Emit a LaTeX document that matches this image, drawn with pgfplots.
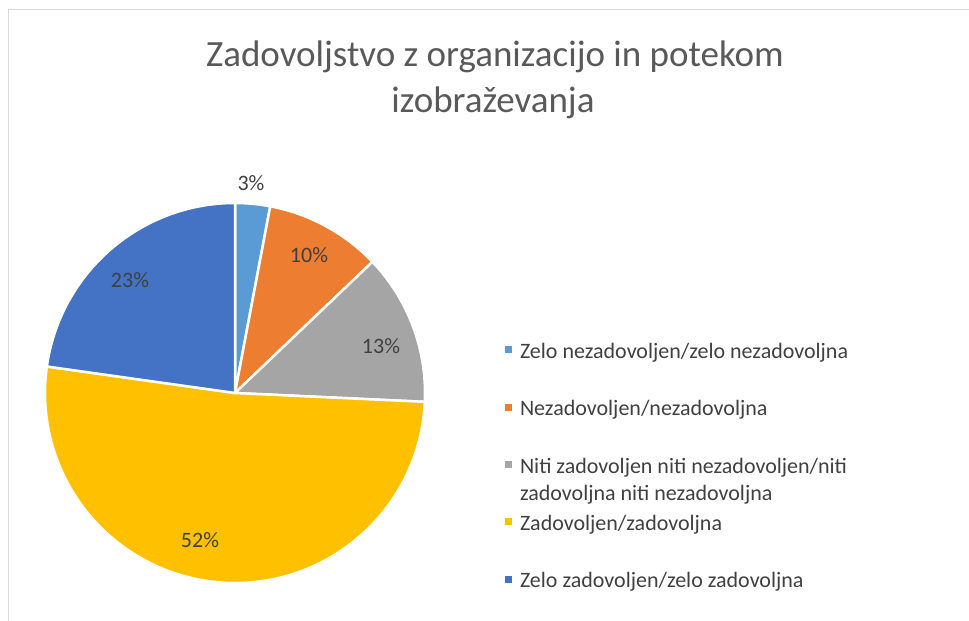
\documentclass[border=0pt]{standalone}
\usepackage{pgfplots}
\usepackage{pgfplotstable}
\pgfplotsset{compat=1.18}
\usepackage{fontspec}
\setmainfont{Carlito}
\definecolor{sliceA}{HTML}{5B9BD5}
\definecolor{sliceB}{HTML}{ED7D31}
\definecolor{sliceC}{HTML}{A5A5A5}
\definecolor{sliceD}{HTML}{FFC000}
\definecolor{sliceE}{HTML}{4472C4}
\definecolor{txt}{HTML}{404040}
\definecolor{ttl}{HTML}{595959}
\definecolor{frame}{HTML}{D9D9D9}

\pgfplotstableread{
value
3
10
13
52
23
}\piedata

\begin{document}%
\begin{tikzpicture}
\pgfplotstablegetelem{0}{value}\of\piedata \global\let\va\pgfplotsretval
\pgfplotstablegetelem{1}{value}\of\piedata \global\let\vb\pgfplotsretval
\pgfplotstablegetelem{2}{value}\of\piedata \global\let\vc\pgfplotsretval
\pgfplotstablegetelem{3}{value}\of\piedata \global\let\vd\pgfplotsretval
\pgfplotstablegetelem{4}{value}\of\piedata \global\let\ve\pgfplotsretval
\pgfmathsetmacro{\tot}{\va+\vb+\vc+\vd+\ve}
\pgfmathsetmacro{\k}{360/\tot}
\pgfmathsetmacro{\aA}{90-\k*(\va)}
\pgfmathsetmacro{\aB}{90-\k*(\va+\vb)}
\pgfmathsetmacro{\aC}{90-\k*(\va+\vb+\vc)}
\pgfmathsetmacro{\aD}{90-\k*(\va+\vb+\vc+\vd)}
\pgfmathsetmacro{\aE}{-270}
\begin{axis}[
  at={(0,0)}, anchor=south west,
  scale only axis, width=969pt, height=621pt,
  xmin=0, xmax=969, ymin=0, ymax=621,
  hide axis, clip=false,
  legend cell align=left,
  legend image code/.code={\fill[#1] (0pt,-3.5pt) rectangle (7pt,3.5pt);},
  legend style={draw=none, fill=none, at={(axis cs:505,281.5)}, anchor=north west,
    inner sep=0pt, outer sep=0pt, row sep=37pt, column sep=0pt,
    font=\fontsize{22}{27}\selectfont\color{txt},
    nodes={inner sep=0pt, outer sep=0pt}},
]
% frame
\draw[frame, line width=1pt] (axis cs:969,611) -- (axis cs:8,611) -- (axis cs:8,0);
% pie slices
\filldraw[fill=sliceA, draw=white, line width=2.5pt, line join=round] (axis cs:235,228) -- ++(90:190pt) arc[start angle=90, end angle=\aA, radius=190pt] -- cycle;
\filldraw[fill=sliceB, draw=white, line width=2.5pt, line join=round] (axis cs:235,228) -- ++(\aA:190pt) arc[start angle=\aA, end angle=\aB, radius=190pt] -- cycle;
\filldraw[fill=sliceC, draw=white, line width=2.5pt, line join=round] (axis cs:235,228) -- ++(\aB:190pt) arc[start angle=\aB, end angle=\aC, radius=190pt] -- cycle;
\filldraw[fill=sliceD, draw=white, line width=2.5pt, line join=round] (axis cs:235,228) -- ++(\aC:190pt) arc[start angle=\aC, end angle=\aD, radius=190pt] -- cycle;
\filldraw[fill=sliceE, draw=white, line width=2.5pt, line join=round] (axis cs:235,228) -- ++(\aD:190pt) arc[start angle=\aD, end angle=\aE, radius=190pt] -- cycle;
% data labels
\begin{scope}[every node/.style={font=\fontsize{22}{27}\selectfont, text=txt, inner sep=0pt}]
\node at (axis cs:251,438) {\va\%};
\node at (axis cs:309,366) {\vb\%};
\node at (axis cs:381,275) {\vc\%};
\node at (axis cs:200,81) {\vd\%};
\node at (axis cs:130,341) {\ve\%};
\end{scope}
% title
\node[anchor=base, font=\fontsize{37}{46}\selectfont, text=ttl, inner sep=0pt] at (axis cs:495,554) {Zadovoljstvo z organizacijo in potekom};
\node[anchor=base, font=\fontsize{37}{46}\selectfont, text=ttl, inner sep=0pt] at (axis cs:493,508) {izobraževanja};
% legend
\addlegendimage{fill=sliceA, draw=none}
\addlegendentry{\hspace{8pt}\strut Zelo nezadovoljen/zelo nezadovoljna}
\addlegendimage{fill=sliceB, draw=none}
\addlegendentry{\hspace{8pt}\strut Nezadovoljen/nezadovoljna}
\addlegendimage{fill=sliceC, draw=none}
\addlegendentry{\hspace{8pt}\raisebox{0pt}[\ht\strutbox][\dp\strutbox]{\begin{tabular}[t]{@{}l@{}}Niti zadovoljen niti nezadovoljen/niti\\zadovoljna niti nezadovoljna\end{tabular}}}
\addlegendimage{fill=sliceD, draw=none}
\addlegendentry{\hspace{8pt}\strut Zadovoljen/zadovoljna}
\addlegendimage{fill=sliceE, draw=none}
\addlegendentry{\hspace{8pt}\strut Zelo zadovoljen/zelo zadovoljna}
\end{axis}
\pgfresetboundingbox
\useasboundingbox (0,0) rectangle (969pt,621pt);
\end{tikzpicture}%
\end{document}
